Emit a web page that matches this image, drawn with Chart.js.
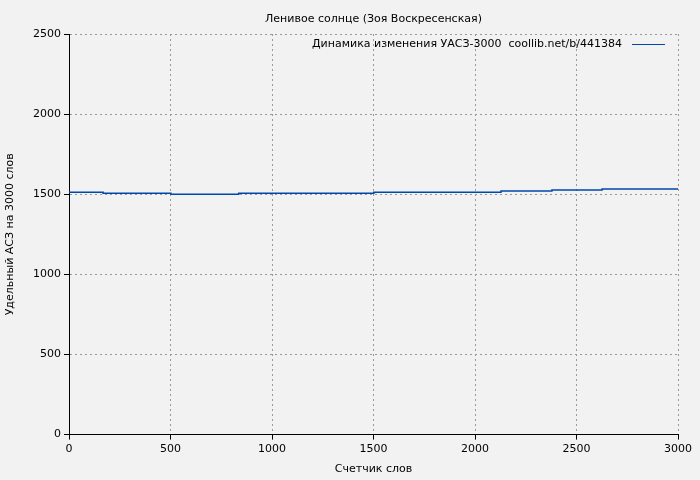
<!DOCTYPE html>
<html><head><meta charset="utf-8">
<script src="https://cdn.jsdelivr.net/npm/chart.js@4"></script>
<style>html,body{margin:0;background:#f2f2f2}#w{width:700px;height:480px}</style>
</head><body><div id="w"><canvas id="c"></canvas></div>
<script>
const stepStarts = [0, 168, 502, 836, 1502, 2128, 2379, 2626, 2877, 3000];
const stepValues = [1520, 1513, 1506, 1500, 1506, 1513, 1520, 1526, 1533, 1533];
const xTicks = [0, 500, 1000, 1500, 2000, 2500, 3000];
const chartTitle = 'Ленивое солнце (Зоя Воскресенская)';
const seriesName = 'Динамика изменения УАСЗ-3000  coollib.net/b/441384';
const FONT = 'DejaVu Sans';

const textPlugin = {
  id: 'texts',
  afterDraw(chart) {
    const { ctx, chartArea: a } = chart;
    ctx.save();
    ctx.font = '11px ' + FONT;
    ctx.fillStyle = '#000';
    ctx.textBaseline = 'middle';
    ctx.textAlign = 'center';
    ctx.fillText(chartTitle, (a.left + a.right) / 2, 19);
    ctx.textAlign = 'right';
    const y = a.top + 10;
    ctx.fillText(seriesName, a.right - 56, y);
    ctx.strokeStyle = '#0047ab';
    ctx.lineWidth = 1;
    ctx.beginPath();
    ctx.moveTo(a.right - 46, y + 0.5);
    ctx.lineTo(a.right - 13, y + 0.5);
    ctx.stroke();
    ctx.restore();
  }
};

new Chart(document.getElementById('c'), {
  type: 'line',
  data: {
    datasets: [{
      data: stepStarts.map((x, i) => ({ x, y: stepValues[i] })),
      borderColor: '#0047ab', borderWidth: 1.5, pointRadius: 0, stepped: 'after'
    }]
  },
  options: {
    responsive: true, maintainAspectRatio: false, animation: false,
    layout: { padding: { left: 0, right: 22, top: 34, bottom: 0 } },
    plugins: {
      legend: { display: false },
      tooltip: { enabled: false }
    },
    scales: {
      x: {
        type: 'linear', min: 0, max: 3000,
        afterBuildTicks: s => { s.ticks = xTicks.map(v => ({ value: v })); },
        title: { display: true, text: 'Счетчик слов', color: '#000', font: { family: FONT, size: 11 }, padding: { top: 4 } },
        ticks: { color: '#000', font: { family: FONT, size: 11 }, maxRotation: 0, callback: v => String(v) },
        grid: { color: '#999', tickColor: '#000', tickLength: 5 },
        border: { color: '#000', dash: [2, 3] }
      },
      y: {
        min: 0, max: 2500,
        afterFit: s => { s.width = 69; },
        ticks: { stepSize: 500, color: '#000', font: { family: FONT, size: 11 }, callback: v => String(v) },
        title: { display: true, text: 'Удельный АСЗ на 3000 слов', color: '#000', font: { family: FONT, size: 11 } },
        grid: { color: '#999', tickColor: '#000', tickLength: 5 },
        border: { color: '#000', dash: [2, 3] }
      }
    }
  },
  plugins: [textPlugin]
});
</script></body></html>
